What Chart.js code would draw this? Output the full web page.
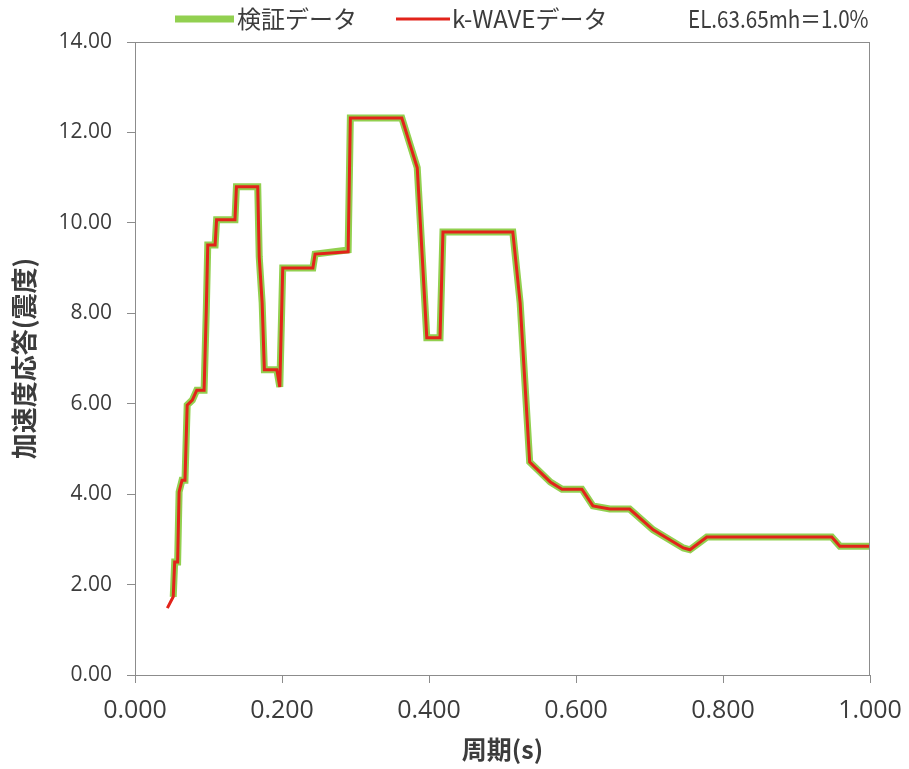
<!DOCTYPE html>
<html>
<head>
<meta charset="utf-8">
<script src="https://cdn.jsdelivr.net/npm/chart.js@4/dist/chart.umd.min.js"></script>
<style>
html,body{margin:0;padding:0;background:#fff;}
#wrap{position:relative;width:909px;height:769px;}
</style>
</head>
<body>
<div id="wrap"><canvas id="c" width="909" height="769"></canvas></div>
<script>
// ---- data ----
const periods = [0.044,0.052,0.054,0.058,0.060,0.064,0.068,0.071,0.078,0.084,0.094,0.097,0.099,0.109,0.111,0.136,0.138,0.167,0.169,0.173,0.176,0.193,0.197,0.201,0.242,0.245,0.290,0.293,0.363,0.384,0.397,0.415,0.419,0.514,0.524,0.537,0.565,0.581,0.608,0.623,0.646,0.673,0.705,0.746,0.755,0.778,0.948,0.959,1.000];
const kwaveValues = [1.48,1.73,2.50,2.50,4.05,4.31,4.31,5.97,6.08,6.30,6.30,8.07,9.51,9.51,10.07,10.07,10.80,10.80,9.25,8.23,6.75,6.75,6.37,9.00,9.00,9.31,9.36,12.32,12.32,11.22,7.46,7.46,9.80,9.80,8.23,4.71,4.27,4.11,4.11,3.74,3.67,3.67,3.21,2.81,2.77,3.05,3.05,2.85,2.85];
const verifyValues = [null,1.73,2.50,2.50,4.05,4.31,4.31,5.97,6.08,6.30,6.30,8.07,9.51,9.51,10.07,10.07,10.80,10.80,9.25,8.23,6.75,6.75,6.37,9.00,9.00,9.31,9.40,12.32,12.32,11.22,7.46,7.46,9.80,9.80,8.23,4.71,4.27,4.11,4.11,3.74,3.67,3.67,3.21,2.81,2.77,3.05,3.05,2.85,2.85];
const xTickLabels = ['0.000','0.200','0.400','0.600','0.800','1.000'];
const yTickLabels = ['0.00','2.00','4.00','6.00','8.00','10.00','12.00','14.00'];
const seriesNames = ['検証データ','k-WAVEデータ'];
const noteText = 'EL.63.65mh＝1.0%';
const xTitle = '周期(s)';
const yTitle = '加速度応答(震度)';

const GREEN = '#92D050';
const RED = '#E2231A';
const AXIS = '#8c8c8c';
const TXT = '#3c3c3c';

function pts(vals){
  const out=[];
  for(let i=0;i<periods.length;i++){ if(vals[i]!==null) out.push({x:periods[i],y:vals[i]}); }
  return out;
}

const frame = {
  id:'frame',
  afterDatasetsDraw(chart){
    const {ctx, chartArea:a} = chart;
    ctx.save();
    ctx.strokeStyle = AXIS; ctx.lineWidth = 1;
    ctx.strokeRect(a.left+0.5, a.top+0.5, a.right-a.left-1, a.bottom-a.top);
    ctx.restore();
  }
};

const legendPlugin = {
  id:'customLegend',
  afterDraw(chart){
    const ctx = chart.ctx;
    const y = 19;
    ctx.save();
    ctx.textBaseline = 'middle';
    ctx.fillStyle = TXT;
    ctx.font = '24px "Noto Sans CJK JP"';
    ctx.strokeStyle = GREEN; ctx.lineWidth = 7;
    ctx.beginPath(); ctx.moveTo(175,y); ctx.lineTo(234,y); ctx.stroke();
    ctx.fillText(seriesNames[0], 237, y);
    ctx.strokeStyle = RED; ctx.lineWidth = 3;
    ctx.beginPath(); ctx.moveTo(396,y); ctx.lineTo(450,y); ctx.stroke();
    ctx.fillText(seriesNames[1], 452, y);
    ctx.translate(688, y);
    ctx.scale(0.86, 1);
    ctx.fillText(noteText, 0, 0);
    ctx.restore();
  }
};

new Chart(document.getElementById('c'), {
  type:'line',
  data:{
    datasets:[
      {label:seriesNames[1], data:pts(kwaveValues), borderColor:RED, borderWidth:3, pointRadius:0, tension:0, fill:false},
      {label:seriesNames[0], data:pts(verifyValues), borderColor:GREEN, borderWidth:7, pointRadius:0, tension:0, fill:false}
    ]
  },
  options:{
    responsive:false,
    devicePixelRatio:1,
    animation:false,
    layout:{padding:{top:42,right:39,left:0,bottom:0}},
    plugins:{legend:{display:false}, tooltip:{enabled:false}},
    scales:{
      x:{
        type:'linear', min:0, max:1,
        afterFit(s){ s.height = 94; s.paddingLeft = 0; s.paddingRight = 0; },
        ticks:{stepSize:0.2, color:TXT, font:{family:'"Open Sans"', size:25}, padding:13,
          callback:(v,i)=>xTickLabels[i], maxRotation:0},
        grid:{display:true, drawOnChartArea:false, drawTicks:true, tickLength:8, color:AXIS},
        border:{display:true, color:AXIS},
        title:{display:true, text:xTitle, color:TXT, font:{family:'"Noto Sans CJK JP"', size:25, weight:'bold'}, padding:{top:0,bottom:5}}
      },
      y:{
        min:0, max:14,
        afterFit(s){ s.width = 135; s.paddingTop = 0; s.paddingBottom = 0; },
        ticks:{stepSize:2, color:TXT, font:{family:'"Open Sans"', size:21}, padding:15,
          callback:(v,i)=>yTickLabels[i]},
        grid:{display:true, drawOnChartArea:false, drawTicks:true, tickLength:8, color:AXIS},
        border:{display:true, color:AXIS},
        title:{display:true, text:yTitle, color:TXT, font:{family:'"Noto Sans CJK JP"', size:26, weight:'bold'}, padding:{top:9,bottom:0}}
      }
    }
  },
  plugins:[frame, legendPlugin]
});
</script>
</body>
</html>
